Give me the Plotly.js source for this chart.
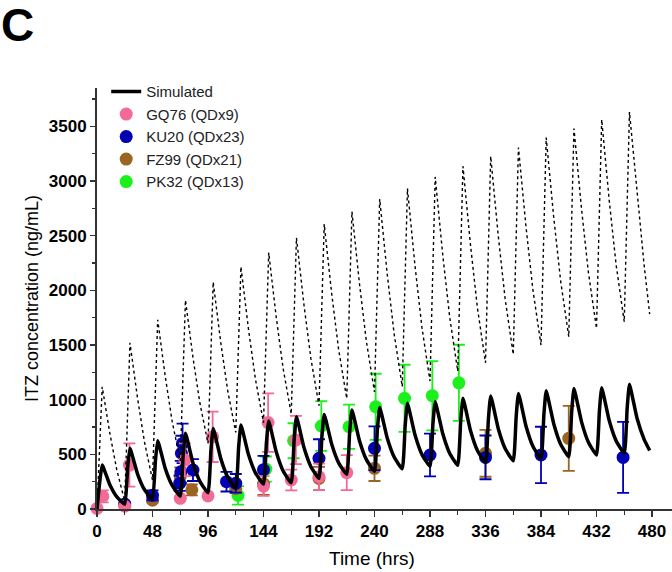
<!DOCTYPE html>
<html>
<head>
<meta charset="utf-8">
<script src="https://cdn.plot.ly/plotly-3.0.1.min.js"></script>
<style>html,body{margin:0;padding:0;background:#fff;}#chart{width:672px;height:572px;}</style>
</head>
<body>
<div id="chart"></div>
<script>
// ---- Simulated profiles (hours, ng/mL) ----
const simTime = [0,2.5,4.5,11,17, 24,26.5,28.5,35,41, 48,50.5,52.5,59,65, 72,74.5,76.5,83,89,
  96,98.5,100.5,107,113, 120,122.5,124.5,131,137, 144,146.5,148.5,155,161, 168,170.5,172.5,179,185,
  192,194.5,196.5,203,209, 216,218.5,220.5,227,233, 240,242.5,244.5,251,257, 264,266.5,268.5,275,281,
  288,290.5,292.5,299,305, 312,314.5,316.5,323,329, 336,338.5,340.5,347,353, 360,362.5,364.5,371,377,
  384,386.5,388.5,395,401, 408,410.5,412.5,419,425, 432,434.5,436.5,443,449, 456,458.5,460.5,467,473,478];
const simSolid = [0,261,402,224,113, 45,377,555,322,178, 89,437,624,371,215, 119,491,692,420,252,
  149,531,737,463,293, 189,565,768,498,331, 228,603,805,523,347, 240,633,844,562,387,
  280,660,865,592,422, 318,700,905,625,451, 345,725,929,649,475, 368,757,966,678,499,
  390,774,981,690,510, 400,798,1012,718,535, 423,820,1033,737,553, 440,841,1057,759,573,
  460,864,1081,780,592, 478,884,1103,799,610, 494,894,1109,809,623, 509,919,1140,832,642,535];
const simDotted = [0,671,1118,699,363, 70,940,1520,1018,616, 265,1144,1730,1214,801, 440,1322,1910,1386,967,
  600,1485,2075,1525,1085, 700,1609,2215,1645,1189, 790,1723,2345,1755,1283, 870,1836,2480,1866,1375,
  945,1941,2605,1967,1457, 1010,2036,2720,2060,1532, 1070,2129,2835,2149,1600, 1120,2207,2931,2227,1663,
  1170,2290,3037,2326,1758, 1260,2385,3135,2416,1840, 1337,2470,3226,2501,1921, 1414,2549,3306,2583,2005,
  1499,2638,3397,2668,2085, 1575,2718,3480,2749,2164, 1652,2798,3562,2822,2230, 1712,2863,3631,2916,2250,1782];

// ---- Observed data ----
const gqTime = [0, 5, 24, 28, 72, 76, 96, 100, 144, 148, 168, 172, 192, 216];
const gqConc = [5, 115, 25, 402, 98, 450, 120, 660, 210, 790, 265, 631, 295, 332];
const gqErr  = [0, 55, 0, 198, 0, 150, 0, 230, 90, 267, 95, 220, 120, 160];

const kuTime = [24, 48, 71.5, 72.5, 73, 74, 83, 112, 120, 144, 192, 240, 288, 336, 384, 455];
const kuConc = [45, 125, 235, 340, 510, 600, 356, 250, 235, 360, 463, 555, 494, 472, 494, 472];
const kuErr  = [15, 45, 70, 100, 160, 180, 100, 90, 85, 125, 175, 200, 195, 200, 258, 325];

const fzTime = [48, 72, 82, 120, 144, 192, 240, 336, 408];
const fzConc = [80, 300, 175, 185, 230, 280, 372, 509, 646];
const fzErr  = [20, 80, 50, 40, 100, 105, 116, 214, 297];

const pkTime = [122, 146, 170, 194, 218, 241, 266, 290, 313];
const pkConc = [125, 365, 624, 759, 752, 935, 1012, 1036, 1154];
const pkErr  = [85, 115, 160, 228, 203, 302, 307, 317, 348];

const seriesNames = ['Simulated', 'GQ76 (QDx9)', 'KU20 (QDx23)', 'FZ99 (QDx21)', 'PK32 (QDx13)'];
const colors = {gq: '#F26A95', ku: '#0000B4', fz: '#9A6422', pk: '#1CF01C'};

const FONT = '"Liberation Sans", Arial, sans-serif';

function obs(name, t, y, e, color, rank) {
  return {
    type: 'scatter', mode: 'markers', name: name, x: t, y: y,
    marker: {color: color, size: 13, line: {width: 0}},
    error_y: {type: 'data', array: e, visible: true, color: color, thickness: 1.8, width: 6},
    cliponaxis: false, legendrank: rank
  };
}

const traces = [
  obs(seriesNames[4], pkTime, pkConc, pkErr, colors.pk, 5),
  obs(seriesNames[3], fzTime, fzConc, fzErr, colors.fz, 4),
  obs(seriesNames[2], kuTime, kuConc, kuErr, colors.ku, 3),
  obs(seriesNames[1], gqTime, gqConc, gqErr, colors.gq, 2),
  {type: 'scatter', mode: 'lines', x: simTime, y: simDotted, showlegend: false,
   line: {color: '#000', width: 1.4, dash: 'dot'}, cliponaxis: false, hoverinfo: 'skip'},
  {type: 'scatter', mode: 'lines', name: seriesNames[0], x: simTime, y: simSolid,
   line: {color: '#000', width: 3.5, shape: 'spline', smoothing: 0.4}, cliponaxis: false, legendrank: 1}
];

const layout = {
  width: 672, height: 572,
  margin: {l: 97, r: 0, t: 88, b: 63, pad: 0},
  paper_bgcolor: '#fff', plot_bgcolor: '#fff',
  font: {family: FONT, color: '#000'},
  showlegend: true,
  legend: {x: 0.016, y: 1.03, xanchor: 'left', yanchor: 'top',
           font: {family: FONT, size: 15, color: '#222'}, bgcolor: 'rgba(0,0,0,0)',
           tracegroupgap: 0, itemwidth: 30},
  xaxis: {
    range: [0, 497.3], tickmode: 'array', tickvals: [0,48,96,144,192,240,288,336,384,432,480],
    ticks: 'outside', ticklen: 6, tickwidth: 1.5, tickcolor: '#333',
    minor: {dtick: 24, tick0: 0, ticks: 'outside', ticklen: 4, tickwidth: 1.2, tickcolor: '#333'},
    showline: true, linecolor: '#333', linewidth: 2, showgrid: false, zeroline: false,
    tickfont: {family: FONT, size: 17, color: '#000', weight: 'bold'}
  },
  yaxis: {
    range: [0, 3850], tickmode: 'linear', tick0: 0, dtick: 500,
    ticks: 'outside', ticklen: 5, tickwidth: 1.5, tickcolor: '#333',
    minor: {dtick: 250, tick0: 0, ticks: 'outside', ticklen: 3, tickwidth: 1.2, tickcolor: '#333'},
    showline: true, linecolor: '#333', linewidth: 2, showgrid: false, zeroline: false,
    tickfont: {family: FONT, size: 17, color: '#000', weight: 'bold'},
    title: {text: 'ITZ concentration (ng/mL)', font: {family: FONT, size: 18, color: '#000'}, standoff: 5}
  },
  annotations: [
    {text: 'Time (hrs)', xref: 'paper', yref: 'paper', x: 0.478, y: -0.1164,
     xanchor: 'center', yanchor: 'middle', showarrow: false,
     font: {family: FONT, size: 19, color: '#000'}},
    {text: '<b>C</b>', xref: 'paper', yref: 'paper', x: -0.1687, y: 1.1485,
     xanchor: 'left', yanchor: 'middle', showarrow: false, borderpad: 0,
     font: {family: FONT, size: 46, color: '#000'}}
  ]
};

Plotly.newPlot('chart', traces, layout, {staticPlot: true, displayModeBar: false});
</script>
</body>
</html>
